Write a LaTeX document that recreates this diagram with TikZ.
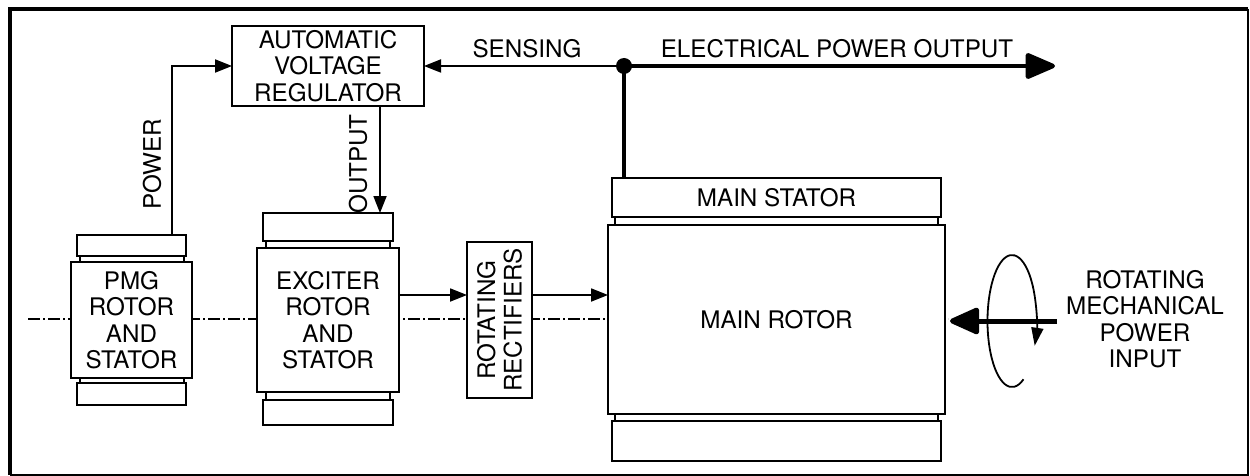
\documentclass[tikz,border=0pt]{standalone}
\usepackage{fontspec}
\setmainfont{TeX Gyre Heros}
\usetikzlibrary{arrows.meta}
\newcommand\dfont{\fontsize{24.2}{26.5}\selectfont}
\begin{document}
\begin{tikzpicture}[x=1pt,y=-1pt,
  box/.style={draw, line width=2pt, fill=white, inner sep=0pt, outer sep=0pt, align=center, font=\dfont},
  strip/.style={draw, line width=1.2pt, fill=white, inner sep=0pt, outer sep=0pt},
  lbl/.style={inner sep=0pt, align=center, font=\dfont},
  thin/.style={line width=1.8pt},
  arr/.style={thin, -{Triangle[length=17pt,width=13pt]}},
  thickw/.style={line width=4.5pt},
  bigarr/.style={line width=4.5pt, -{Triangle[length=33pt,width=27pt,round]}},
  centre/.style={line width=1.3pt, dash pattern=on 12pt off 3pt on 2pt off 3pt}
]
\useasboundingbox (0,0) rectangle (1250,476);
% frame
\coordinate (f1) at (10,475);
\coordinate (f2) at (10,9);
\coordinate (f3) at (1248,9);
\draw[line width=1.5pt] (f3) -- (1248,475) -- (f1);
\draw[line width=4pt] (f1) -- (f2) -- (f3);

% centre line
\coordinate (cl0) at (28,319);
\coordinate (cl1) at (948,319);
\draw[centre] (cl0) -- (cl1);

% AVR
\node[box, minimum width=192pt, minimum height=80pt] (avr) at (328,66) {AUTOMATIC\\VOLTAGE\\REGULATOR};

% PMG
\node[strip, minimum width=104pt, minimum height=6pt] (pmgs1) at (132,259) {};
\node[strip, minimum width=104pt, minimum height=5pt] (pmgs2) at (132,380.5) {};
\node[box, minimum width=109pt, minimum height=21pt] (pmgtop) at (131.5,245.5) {};
\node[box, minimum width=109pt, minimum height=22pt] (pmgbot) at (131.5,394) {};
\node[box, minimum width=121pt, minimum height=116pt] (pmg) at (131.5,320) {PMG\\ROTOR\\AND\\STATOR};

% Exciter
\node[strip, minimum width=124pt, minimum height=7pt] (exs1) at (328,244.5) {};
\node[strip, minimum width=124pt, minimum height=8pt] (exs2) at (328,396) {};
\node[box, minimum width=130pt, minimum height=28pt] (extop) at (328,227) {};
\node[box, minimum width=130pt, minimum height=25pt] (exbot) at (328,412.5) {};
\node[box, minimum width=142pt, minimum height=144pt] (ex) at (328,320) {EXCITER\\ROTOR\\AND\\STATOR};

% Rectifiers
\node[box, rotate=90, minimum width=156pt, minimum height=65pt] (rect) at (499.5,320) {ROTATING\\RECTIFIERS};

% Main machine
\node[strip, minimum width=323pt, minimum height=8pt] (ms1) at (776.5,221) {};
\node[strip, minimum width=323pt, minimum height=7pt] (ms2) at (776.5,417.5) {};
\node[box, minimum width=329pt, minimum height=39pt] (mstat) at (776.5,197.5) {MAIN STATOR};
\node[box, minimum width=329pt, minimum height=40pt] (mbot) at (776.5,441) {};
\node[box, minimum width=337pt, minimum height=189pt] (mrot) at (776.5,319.5) {MAIN ROTOR};

% POWER connector
\coordinate (pw) at (172,66);
\draw[arr] (pmgtop.north -| pw) |- (avr.west);
\node[lbl, rotate=90] (powerlbl) at (152,164) {POWER};

% OUTPUT connector
\coordinate (ox) at (380,0);
\draw[arr] (avr.south -| ox) -- (extop.north -| ox);
\node[lbl, rotate=90] (outlbl) at (358,164) {OUTPUT};

% exciter -> rectifiers -> main rotor
\coordinate (ay) at (0,295);
\draw[arr] (ex.east |- ay) -- (rect.north |- ay);
\draw[arr] (rect.south |- ay) -- (mrot.west |- ay);

% electrical power output and sensing
\coordinate (j) at (624,66);
\coordinate (pout) at (1055,66);
\draw[thickw] (mstat.north -| j) -- (j);
\draw[bigarr] (j) -- (pout);
\draw[arr] (j) -- (avr.east);
\fill (j) circle (8pt);
\node[lbl] (senslbl) at (527,48.5) {SENSING};
\node[lbl] (eplbl) at (837,48.5) {ELECTRICAL POWER OUTPUT};

% mechanical input
\coordinate (shaft) at (1057,321);
\coordinate (shafttip) at (950,321);
\draw[line width=5pt, -{Triangle[length=33pt,width=28pt,round]}] (shaft) -- (shafttip);
\coordinate (rotstart) at (1023.5,379.3);
\draw[line width=1.8pt, -{Triangle[length=18pt,width=12pt]}] (rotstart) arc[start angle=-62, end angle=-382, x radius=24.5pt, y radius=66pt];
\node[lbl] (mechlbl) at (1145,319) {ROTATING\\MECHANICAL\\POWER\\INPUT};
\end{tikzpicture}
\end{document}
